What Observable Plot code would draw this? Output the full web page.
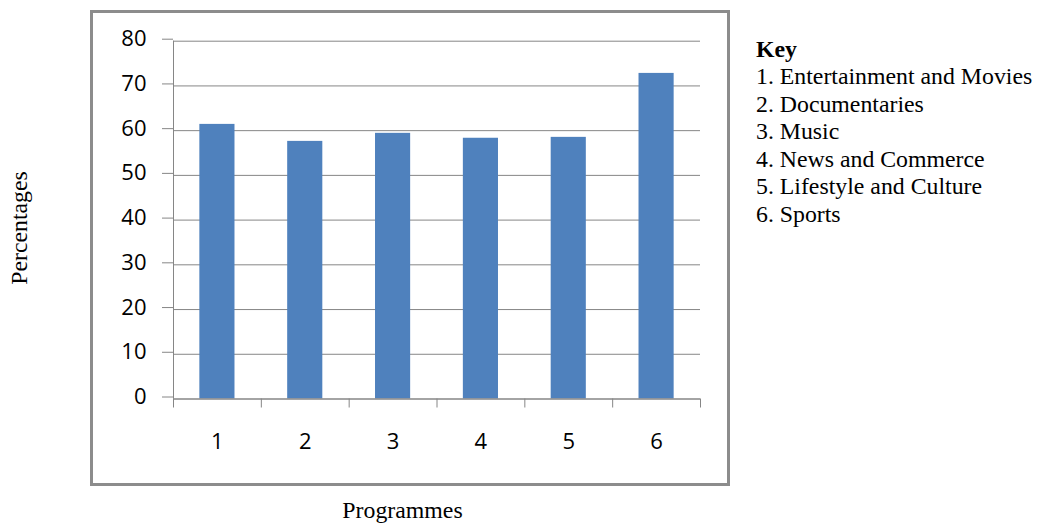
<!DOCTYPE html>
<html>
<head>
<meta charset="utf-8">
<script src="https://cdn.jsdelivr.net/npm/d3@7"></script>
<script src="https://cdn.jsdelivr.net/npm/@observablehq/plot@0.6"></script>
<style>
  html, body { margin: 0; padding: 0; background: #fff; }
  #wrap { position: relative; width: 1037px; height: 524px; overflow: hidden; }
  #box { position: absolute; left: 90px; top: 10px; width: 634px; height: 470px; border: 3px solid #8c8c8c; }
  #chart { position: absolute; left: 0; top: 0; }
  .serif { font-family: "Liberation Serif", "Times New Roman", serif; font-size: 23.8px; color: #000; position: absolute; white-space: nowrap; }
  #key { left: 756px; top: 35.5px; }
  #key div { height: 27.5px; line-height: 27.5px; }
  #xlabel { left: 402.5px; top: 497px; transform: translateX(-50%); line-height: 27.5px; }
  #ylabel { left: 20px; top: 228px; transform: translate(-50%, -50%) rotate(-90deg); line-height: 27.5px; }
</style>
</head>
<body>
<div id="wrap">
  <div id="box"></div>
  <div id="chart"></div>
  <div id="key" class="serif"></div>
  <div id="xlabel" class="serif"></div>
  <div id="ylabel" class="serif"></div>
</div>
<script>
const categories = [1, 2, 3, 4, 5, 6];
const percentages = [61.4, 57.6, 59.4, 58.3, 58.5, 72.8];
const yTicks = [0, 10, 20, 30, 40, 50, 60, 70, 80];
const keyTitle = "Key";
const keyItems = ["1. Entertainment and Movies", "2. Documentaries", "3. Music", "4. News and Commerce", "5. Lifestyle and Culture", "6. Sports"];
const xTitle = "Programmes";
const yTitle = "Percentages";

const data = categories.map((c, i) => ({category: c, value: percentages[i]}));
const boundaries = [0.5, ...categories.map(c => c + 0.5)];
const halfBar = 0.2;

const chart = Plot.plot({
  width: 1037,
  height: 524,
  marginLeft: 173,
  marginRight: 337,
  marginTop: 40.7,
  marginBottom: 125.5,
  style: { background: "transparent", overflow: "visible" },
  x: { type: "linear", domain: [0.5, 6.5] },
  y: { domain: [0, 80] },
  marks: [
    Plot.ruleY(yTicks.filter(t => t > 0), { y: d => d, stroke: "#868686", strokeWidth: 1 }),
    Plot.rectY(data, { x1: d => d.category - halfBar, x2: d => d.category + halfBar, y1: 0, y2: "value", fill: "#4f81bd" }),
    Plot.ruleY([0], { stroke: "#868686", strokeWidth: 1.6 }),
    Plot.ruleX([0.5], { y1: 0, y2: 80, stroke: "#868686" }),
    Plot.axisY({ ticks: yTicks, tickSize: 11, tickPadding: 16, stroke: "#868686", fontSize: 22, fontFamily: "'Open Sans', sans-serif", fill: "#000", dy: -2, label: null }),
    Plot.axisX({ ticks: boundaries, tickSize: 9, tickFormat: () => "", stroke: "#868686", label: null }),
    Plot.axisX({ ticks: categories, tickSize: 0, tickPadding: 34.5, tickFormat: d => String(d), fontSize: 22, fontFamily: "'Open Sans', sans-serif", fill: "#000", label: null })
  ]
});
document.getElementById("chart").appendChild(chart);

const key = document.getElementById("key");
const t = document.createElement("div");
t.style.fontWeight = "bold";
t.textContent = keyTitle;
key.appendChild(t);
keyItems.forEach(s => { const d = document.createElement("div"); d.textContent = s; key.appendChild(d); });
document.getElementById("xlabel").textContent = xTitle;
document.getElementById("ylabel").textContent = yTitle;
</script>
</body>
</html>
